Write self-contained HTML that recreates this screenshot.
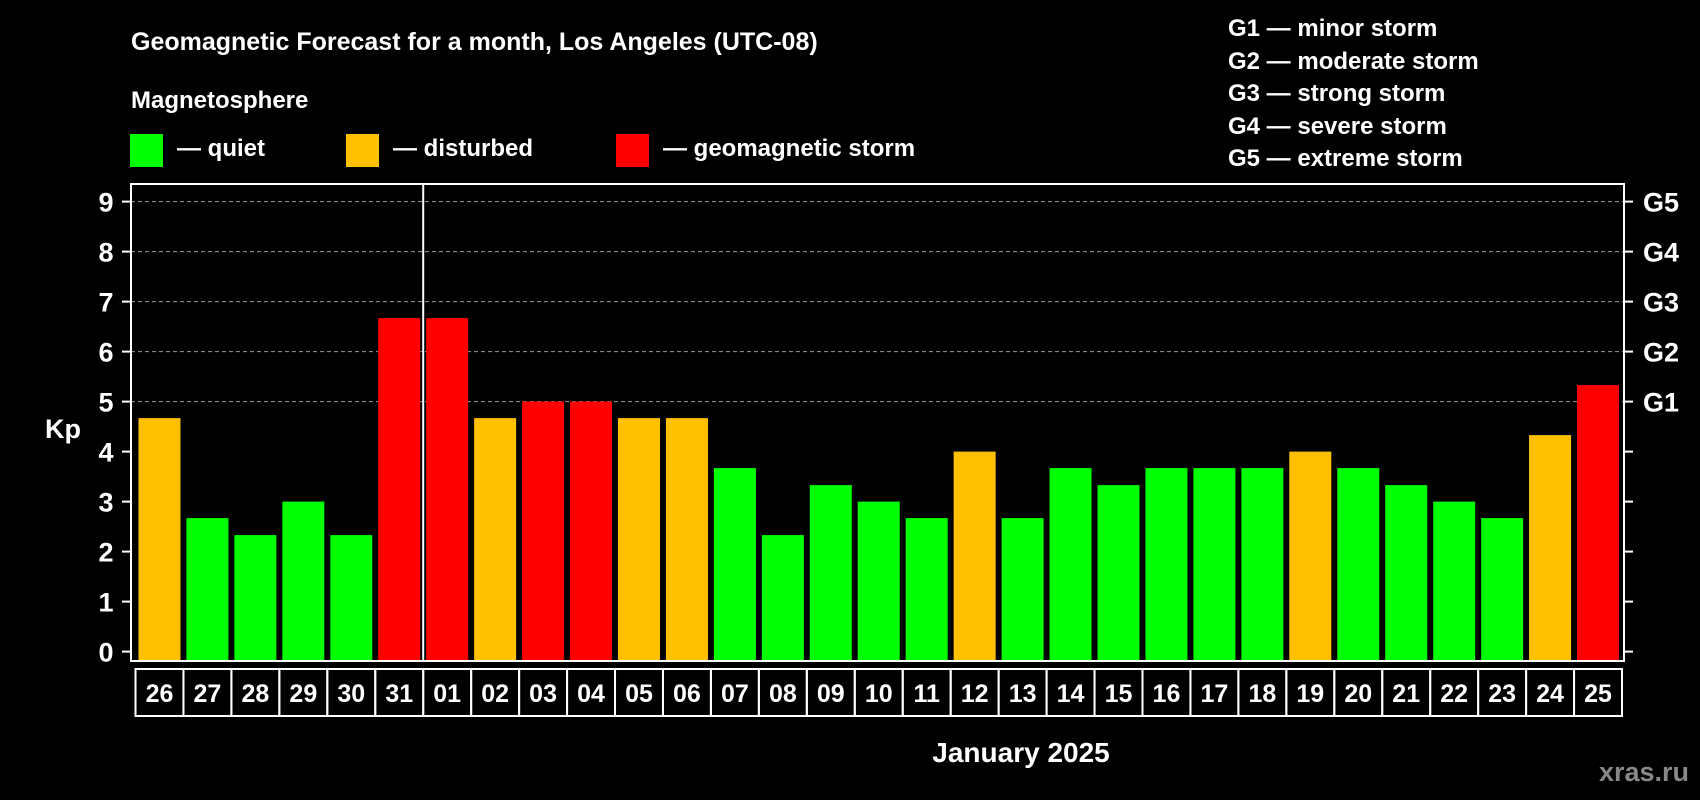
<!DOCTYPE html>
<html><head><meta charset="utf-8"><style>
html,body{margin:0;padding:0;background:#000;}
svg{display:block;font-family:"Liberation Sans",sans-serif;font-weight:bold;}
</style></head><body>
<svg id="chart" width="1700" height="800" viewBox="0 0 1700 800">
<rect width="1700" height="800" fill="#000"/>
<text x="131" y="50" fill="#fff" font-size="25">Geomagnetic Forecast for a month, Los Angeles (UTC-08)</text>
<text x="131" y="108" fill="#fff" font-size="24">Magnetosphere</text>
<g><rect x="130" y="134" width="33" height="33" fill="#00ff00"/><text x="177" y="156" fill="#fff" font-size="24">— quiet</text></g>
<g><rect x="346" y="134" width="33" height="33" fill="#ffc000"/><text x="393" y="156" fill="#fff" font-size="24">— disturbed</text></g>
<g><rect x="616" y="134" width="33" height="33" fill="#ff0000"/><text x="663" y="156" fill="#fff" font-size="24">— geomagnetic storm</text></g>
<g fill="#fff" font-size="24">
<text x="1228" y="36">G1 — minor storm</text>
<text x="1228" y="69">G2 — moderate storm</text>
<text x="1228" y="101">G3 — strong storm</text>
<text x="1228" y="134">G4 — severe storm</text>
<text x="1228" y="166">G5 — extreme storm</text>
</g>
<text x="63" y="438" fill="#fff" font-size="27" text-anchor="middle">Kp</text>
<text x="1021" y="762" fill="#fff" font-size="28" text-anchor="middle">January 2025</text>
<text x="1689" y="781" fill="#888" font-size="27" text-anchor="end">xras.ru</text>
<g id="plot"></g>
</svg>
<script>
const days = ["26","27","28","29","30","31","01","02","03","04","05","06","07","08","09","10","11","12","13","14","15","16","17","18","19","20","21","22","23","24","25"];
const kpValues = [4.67,2.67,2.33,3,2.33,6.67,6.67,4.67,5,5,4.67,4.67,3.67,2.33,3.33,3,2.67,4,2.67,3.67,3.33,3.67,3.67,3.67,4,3.67,3.33,3,2.67,4.33,5.33];
const yTicks = [0,1,2,3,4,5,6,7,8,9];
const gLabels = ["G1","G2","G3","G4","G5"];
const gLevels = [5,6,7,8,9];
const monthStartIndex = 6;

const NS = "http://www.w3.org/2000/svg";
const plot = document.getElementById("plot");
const L = 131, R = 1624, T = 184, B = 661;
const y0 = 651.6, unit = 50;
const slotX0 = 135.5, slot = (1622 - 135.5) / days.length;
function yScale(v){ return y0 - v * unit; }
function xScale(i){ return slotX0 + i * slot; }
function mk(tag, attrs){ const e = document.createElementNS(NS, tag); for (const k in attrs) e.setAttribute(k, attrs[k]); plot.appendChild(e); return e; }
function color(v){ return v >= 5 ? "#ff0000" : (v >= 4 ? "#ffc000" : "#00ff00"); }

yTicks.forEach(t => {
  const y = yScale(t);
  if (t >= 5) {
    const g = mk("line", {x1: L, x2: R, y1: y, y2: y, stroke: "#999", "stroke-width": 1, "stroke-dasharray": "4,3"});
    
    
  }
  const tl = mk("line", {x1: L - 9, x2: L, y1: y, y2: y, stroke: "#fff", "stroke-width": 2});
  
  
  const tr = mk("line", {x1: R, x2: R + 9, y1: y, y2: y, stroke: "#fff", "stroke-width": 2});
  
  
  const lb = mk("text", {x: 106, y: y + 10, fill: "#fff", "font-size": 27, "text-anchor": "middle"});
  lb.textContent = t;
  
  
});
gLabels.forEach((g, i) => {
  const t = mk("text", {x: 1643, y: yScale(gLevels[i]) + 10, fill: "#fff", "font-size": 27});
  t.textContent = g;
  
  
});
kpValues.forEach((v, i) => {
  const bw = 42;
  const x = xScale(i) + (slot - bw) / 2;
  const b = mk("rect", {x: x, y: yScale(v), width: bw, height: B - yScale(v), fill: color(v)});
  
  
  const c = mk("rect", {x: xScale(i), y: 669, width: slot, height: 47, fill: "none", stroke: "#fff", "stroke-width": 2});
  
  
  const t = mk("text", {x: xScale(i) + slot / 2, y: 702, fill: "#fff", "font-size": 25, "text-anchor": "middle"});
  t.textContent = days[i];
  
  
});
const sep = mk("line", {x1: xScale(monthStartIndex), x2: xScale(monthStartIndex), y1: T, y2: B, stroke: "#fff", "stroke-width": 2});


const fr = mk("rect", {x: L, y: T, width: R - L, height: B - T, fill: "none", stroke: "#fff", "stroke-width": 2});


</script>
</body></html>
